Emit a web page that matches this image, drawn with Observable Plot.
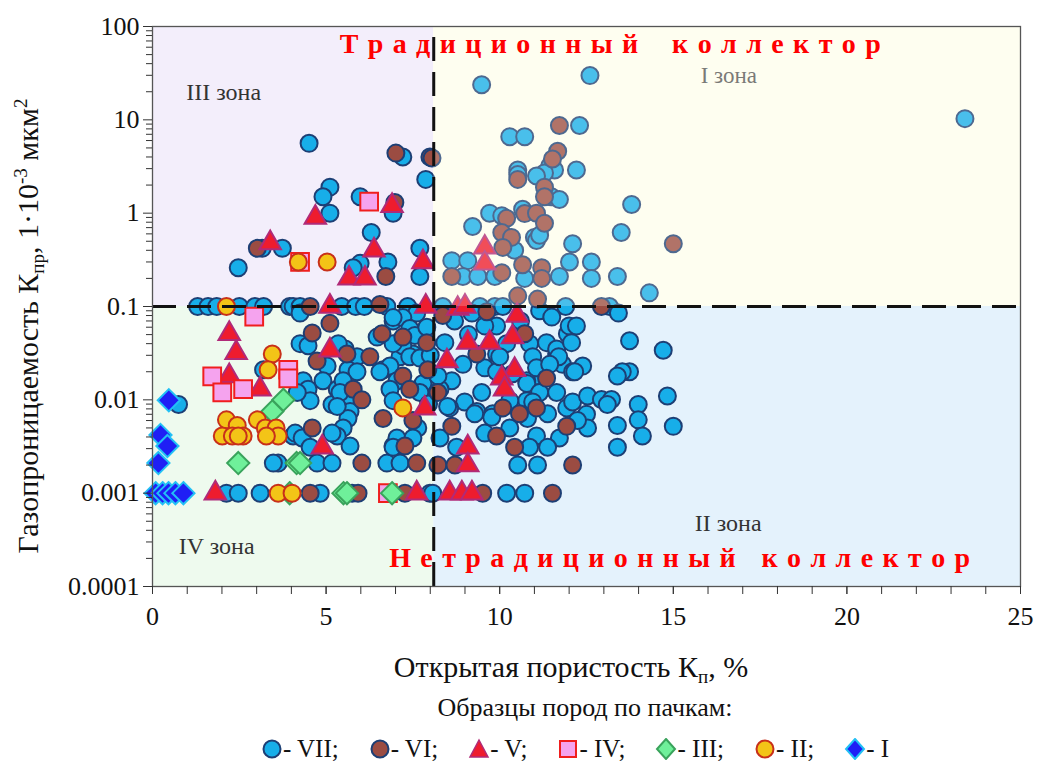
<!DOCTYPE html>
<html><head><meta charset="utf-8">
<script src="https://cdn.jsdelivr.net/npm/d3@7"></script>
<script src="https://cdn.jsdelivr.net/npm/@observablehq/plot@0.6"></script>
<style>
body{margin:0;background:#fff;font-family:"Liberation Serif","Times New Roman",serif;}
#chart svg{display:block}
#legendTitle{position:absolute;top:693px;left:110px;width:950px;text-align:center;font-size:26px;color:#111}
#legendItems{position:absolute;top:735px;left:110px;width:930px;display:flex;justify-content:center;gap:30px;font-size:25px;color:#111;align-items:center}
#legendItems span{display:flex;align-items:center;white-space:pre}
</style></head><body>
<div id="chart"></div>
<div id="legendTitle">Образцы пород по пачкам:</div>
<div id="legendItems"></div>
<script>
// ---- data ----
const xBoundary = 8.1;      // пористость граница
const yBoundary = 0.1;      // проницаемость граница
const xMajor = [0,5,10,15,20,25];
const xMinor = d3.range(0,26,1);
const yMajor = [0.0001,0.001,0.01,0.1,1,10,100];
const seriesNames = ["VII","VI","V","IV","III","II","I"];

const VII = [
[4.51,5.6],[7.21,4.0],[7.87,2.3],[5.11,1.9],[4.91,1.5],[5.11,1.0],[5.98,1.5],[6.93,1.0],[6.3,0.62],[3.16,0.42],[3.74,0.42],[2.47,0.26],[7.7,0.42],[7.7,0.21],[5.98,0.29],[6.78,0.3],[5.78,0.26],
[1.3,0.1],[1.6,0.1],[1.85,0.1],[2.5,0.1],[2.95,0.1],[3.2,0.1],[3.95,0.1],[4.05,0.1],[4.25,0.1],[5.45,0.1],[5.85,0.1],[6.1,0.1],[6.75,0.1],[7.35,0.1],[8.36,0.1],[9.43,0.1],[9.86,0.1],[10.09,0.1],[11.9,0.1],[13.16,0.1],[4.25,0.085],[7.61,0.085],[11.15,0.09],[11.5,0.077],[13.42,0.085],
[12.6,29.8],[9.48,23.8],[23.4,10.3],[12.3,8.7],[10.29,6.6],[10.72,6.6],[11.44,3.2],[11.58,2.9],[11.29,2.7],[11.06,2.5],[12.21,2.9],[10.52,2.9],[11.49,1.5],[11.72,1.4],[10.66,1.1],[9.71,1.0],[10.06,0.94],[9.22,0.72],[11.0,0.55],[11.06,0.51],[10.43,0.4],[12.1,0.47],[8.62,0.31],[9.08,0.31],[8.94,0.21],[9.37,0.21],[9.86,0.21],[10.72,0.2],[11.72,0.21],[12.01,0.3],[12.64,0.3],[12.64,0.2],[13.8,1.24],[13.5,0.62],[14.31,0.14],[13.39,0.21],[10.52,2.6],[11.15,0.58],
[0.75,0.0089],[3.2,0.021],[4.05,0.0041],[3.62,0.0021],[3.48,0.0021],
[4.25,0.04],[4.48,0.038],[5.03,0.023],[5.55,0.035],[5.89,0.029],[5.63,0.021],[5.89,0.020],[6.64,0.021],[6.47,0.047],[6.93,0.07],[7.21,0.076],[7.41,0.058],[7.56,0.049],[7.5,0.031],[7.13,0.029],[6.84,0.023],[7.04,0.016],[6.84,0.013],[4.91,0.016],[4.34,0.016],[4.48,0.013],[4.54,0.0098],[4.17,0.012],[5.32,0.013],[5.6,0.0105],[5.17,0.0089],[5.69,0.0075],[5.63,0.0063],[5.49,0.005],[5.32,0.0041],[4.11,0.0044],[4.31,0.0039],[4.54,0.0031],[5.69,0.0032],[4.74,0.0021],[5.17,0.0021],[6.75,0.0021],[7.13,0.0021],[6.93,0.0032],[7.64,0.005],
[5.35,0.04],[5.49,0.016],[5.4,0.012],[5.32,0.0085],[5.17,0.0044],[6.55,0.02],[6.93,0.0098],[7.21,0.038],[6.93,0.04],[7.41,0.029],[7.7,0.028],[6.93,0.076],[7.79,0.015],[7.7,0.012],[7.04,0.0039],[7.5,0.0039],[6.93,0.0031],[7.9,0.06],[8.0,0.03],[7.95,0.009],
[2.13,0.001],[2.47,0.001],[3.1,0.001],[4.83,0.001],[5.75,0.001],[7.99,0.001],
[8.42,0.041],[9.91,0.062],[9.57,0.062],[8.94,0.024],[9.57,0.022],[9.91,0.031],[10.2,0.04],[10.86,0.04],[10.95,0.029],[11.35,0.041],[11.64,0.031],[11.95,0.051],[11.81,0.024],[12.1,0.02],[11.06,0.018],[10.78,0.016],[8.62,0.016],[8.99,0.0095],[9.48,0.012],[9.34,0.0075],[9.8,0.0071],[10.78,0.0098],[11.64,0.012],[11.38,0.0071],[11.93,0.0082],[10.29,0.005],[8.28,0.0039],[9.57,0.0044],[11.06,0.0041],[11.72,0.0039],[8.76,0.0031],[10.86,0.0031],[11.38,0.0031],[10.52,0.002],[11.09,0.002],[8.07,0.001],[10.2,0.001],[10.72,0.001],
[12.0,0.062],[11.64,0.035],[11.7,0.029],[8.56,0.0082],[9.28,0.0071],[9.77,0.0065],[10.8,0.0063],[8.28,0.013],[8.5,0.0085],[9.91,0.02],[8.22,0.018],[10.0,0.029],[10.78,0.015],[11.06,0.022],[11.44,0.024],[11.15,0.012],[10.37,0.019],[10.29,0.0098],[10.95,0.0095],[9.1,0.05],[8.7,0.07],[9.2,0.085],[10.6,0.07],[12.5,0.007],[12.1,0.0095],
[12.21,0.062],[12.07,0.041],[13.74,0.043],[14.71,0.034],[12.39,0.023],[12.16,0.02],[13.74,0.02],[13.53,0.02],[13.39,0.018],[12.53,0.011],[12.93,0.0101],[13.22,0.0101],[13.1,0.0089],[13.99,0.0089],[14.83,0.011],[13.99,0.0061],[13.39,0.0053],[14.11,0.0041],[15.0,0.0052],[13.39,0.0031],[12.53,0.005],[12.24,0.006]
];
const VI = [
[7.01,4.4],[7.99,4.0],[6.98,1.3],[3.02,0.42],[6.72,0.21],
[11.72,8.7],[11.67,4.6],[11.52,3.8],[10.52,2.3],[11.29,1.9],[11.29,1.5],[10.72,0.99],[11.06,1.0],[10.2,0.88],[11.29,0.78],[10.06,0.62],[10.34,0.55],[10.09,0.43],[8.62,0.21],[10.06,0.23],[10.66,0.28],[11.21,0.26],[11.21,0.2],[10.52,0.13],[11.09,0.12],[15.0,0.47],[8.05,3.9],
[4.54,0.1],[6.55,0.105],[12.93,0.1],[8.36,0.08],[9.63,0.088],
[5.11,0.066],[4.6,0.052],[4.74,0.026],[5.6,0.031],[6.26,0.029],[6.61,0.051],[7.21,0.047],[7.9,0.041],[7.21,0.018],[7.41,0.013],[7.93,0.021],[5.78,0.013],[6.03,0.010],[4.6,0.005],[6.03,0.0021],[7.61,0.0021],[6.64,0.0063],[7.27,0.0032],[7.5,0.006],
[10.72,0.051],[9.34,0.031],[11.35,0.017],[8.22,0.012],[10.09,0.0082],[10.57,0.0071],[11.06,0.0082],[11.93,0.0052],[8.62,0.0052],[9.91,0.0041],[10.43,0.0031],[8.22,0.002],[8.71,0.002],[12.1,0.002],
[4.54,0.001],[5.92,0.001],[7.27,0.001],[9.51,0.001],[11.52,0.001]
];
const V = [
[4.69,0.9],[6.9,1.2],[3.39,0.48],[6.38,0.4],[7.79,0.3],[5.66,0.2],[6.12,0.2],
[5.11,0.1],[7.87,0.1],[8.79,0.095],[9.0,0.1],[10.5,0.08],
[2.21,0.051],[2.41,0.032],[2.21,0.018],[3.1,0.013],[5.11,0.034],[4.89,0.0031],[7.84,0.0081],[1.81,0.001],[7.61,0.001],
[9.08,0.041],[9.71,0.041],[10.37,0.047],[8.48,0.026],[10.43,0.021],[10.06,0.017],[10.14,0.013],[9.08,0.0031],[9.08,0.002],[8.56,0.001],[8.91,0.001],[9.2,0.001],
[9.57,0.43],[9.57,0.29]
];
const IV = [[2.93,0.078],[1.72,0.0178],[2.01,0.012],[2.61,0.013],[3.91,0.021],[3.91,0.017],[6.24,1.33],[4.25,0.3],[6.78,0.001]];
const III = [[3.77,0.01],[3.45,0.0075],[2.47,0.0021],[4.15,0.0021],[4.25,0.0021],[3.95,0.001],[5.5,0.001],[5.6,0.001],[6.9,0.001]];
const II = [[2.13,0.1],[3.45,0.031],[3.33,0.021],[2.13,0.0061],[2.44,0.0053],[2.01,0.0041],[2.3,0.0041],[2.61,0.0041],[2.47,0.0041],[3.02,0.0061],[3.25,0.005],[3.56,0.005],[3.62,0.0041],[3.28,0.0041],[7.21,0.0082],[4.2,0.3],[5.03,0.3],[3.62,0.001],[4.02,0.001]];
const I = [[0.47,0.0099],[0.23,0.0042],[0.43,0.0032],[0.17,0.0021],[0.09,0.001],[0.29,0.001],[0.46,0.001],[0.66,0.001],[0.89,0.001]];

const zoneNames = ["I зона","II зона","III зона","IV зона"];
const titleTop = "Т р а д и ц и о н н ы й    к о л л е к т о р";
const titleBottom = "Н е т р а д и ц и о н н ы й   к о л л е к т о р";

// ---- styles ----
const styles = {
  VII:{data:VII, symbol:"circle",  fill:"#17aee9", stroke:"#1d3f75", r:8.5},
  VI: {data:VI,  symbol:"circle",  fill:"#9b4c42", stroke:"#1d3f75", r:8.5},
  V:  {data:V,   symbol:"triangle",fill:"#ee1c2e", stroke:"#b02a78", r:8},
  IV: {data:IV,  symbol:"square",  fill:"#f5a3ee", stroke:"#f01e1e", r:10},
  III:{data:III, symbol:"diamond2",fill:"#6ff09a", stroke:"#3aa35c", r:10},
  II: {data:II,  symbol:"circle",  fill:"#f3c417", stroke:"#c8301a", r:8.5},
  I:  {data:I,   symbol:"diamond2",fill:"#1f1ff5", stroke:"#22c0f5", r:10}
};
const zones = [
  {name:zoneNames[2], x1:0, x2:xBoundary, y1:yBoundary, y2:100, fill:"#f3eefb"},
  {name:zoneNames[0], x1:xBoundary, x2:25, y1:yBoundary, y2:100, fill:"#fefef0"},
  {name:zoneNames[3], x1:0, x2:xBoundary, y1:0.0001, y2:yBoundary, fill:"#eefaee"},
  {name:zoneNames[1], x1:xBoundary, x2:25, y1:0.0001, y2:yBoundary, fill:"#e4f2fc"}
];
const yMinor = [];
for (let e=-4;e<2;e++) for (let k=2;k<10;k++) yMinor.push(+(k*Math.pow(10,e)).toPrecision(3));

const font = "Liberation Serif";
const marks = [];
zones.forEach(z => marks.push(Plot.rect([z], {x1:"x1",x2:"x2",y1:"y1",y2:"y2",fill:z.fill})));
marks.push(Plot.text([zoneNames[2]], {x:2.05, y:19.6, text:d=>d, fontSize:24, fill:"#333", fontFamily:font}));
marks.push(Plot.text([zoneNames[0]], {x:16.6, y:30, text:d=>d, fontSize:23, fill:"#555", fontFamily:font}));
marks.push(Plot.text([zoneNames[3]], {x:1.85, y:0.00027, text:d=>d, fontSize:24, fill:"#333", fontFamily:font}));
marks.push(Plot.text([zoneNames[1]], {x:16.58, y:0.00048, text:d=>d, fontSize:24, fill:"#333", fontFamily:font}));
seriesNames.forEach(n => {
  const s = styles[n];
  marks.push(Plot.dot(s.data, {x:d=>d[0], y:d=>d[1], symbol:s.symbol, r:s.r, fill:s.fill, stroke:s.stroke, strokeWidth:2}));
});
// lighten points in zone I (as in the original)
marks.push(Plot.rect([zones[1]], {x1:"x1",x2:"x2",y1:"y1",y2:"y2",fill:"#fffff2",fillOpacity:0.22}));
marks.push(Plot.ruleX([xBoundary], {y1:0.0001, y2:100, stroke:"#111", strokeWidth:3, strokeDasharray:"24,11"}));
marks.push(Plot.ruleY([yBoundary], {x1:0, x2:25, stroke:"#111", strokeWidth:3, strokeDasharray:"24,11"}));
marks.push(Plot.text([titleTop], {x:13.2, y:65, text:d=>d, fill:"#ff0000", fontWeight:"bold", fontSize:28, fontFamily:font}));
marks.push(Plot.text([titleBottom], {x:15.2, y:0.0002, text:d=>d, fill:"#ff0000", fontWeight:"bold", fontSize:28, fontFamily:font}));
marks.push(Plot.frame({stroke:"#555", strokeWidth:1.3}));
marks.push(Plot.axisY({ticks:yMinor, tickFormat:()=>"", tickSize:6, label:null, stroke:"#333"}));
marks.push(Plot.axisY({ticks:yMajor, tickFormat:d=>String(d), tickSize:9, tickPadding:4, label:null, fontSize:26, fontFamily:font, fill:"#111", stroke:"#333"}));
marks.push(Plot.axisX({ticks:xMinor, tickFormat:()=>"", tickSize:8, label:null, stroke:"#333"}));
marks.push(Plot.axisX({ticks:xMajor, tickSize:8, tickPadding:12, label:null, fontSize:26, fontFamily:font, fill:"#111", stroke:"#333"}));

const chart = Plot.plot({
  width:1040, height:690,
  marginLeft:152, marginRight:20, marginTop:26, marginBottom:104,
  x:{domain:[0,25]},
  y:{type:"log", domain:[0.0001,100]},
  style:{fontFamily:font, background:"#fff", overflow:"visible"},
  marks
});
document.getElementById("chart").appendChild(chart);

const svg = d3.select(chart);
svg.selectAll("text").filter(function(){return this.textContent===titleTop || this.textContent===titleBottom;})
  .style("letter-spacing","1.2px");
// axis labels with sub/superscripts
const xl = svg.append("text").attr("x",571).attr("y",677).attr("text-anchor","middle")
  .attr("font-size",30).attr("font-family",font).attr("fill","#111");
xl.append("tspan").text("Открытая пористость К");
xl.append("tspan").attr("font-size",19).attr("dy",6).text("п");
xl.append("tspan").attr("dy",-6).text(", %");
const yl = svg.append("text").attr("transform","translate(38,326) rotate(-90)").attr("text-anchor","middle")
  .attr("font-size",30).attr("font-family",font).attr("fill","#111");
yl.append("tspan").text("Газопроницаемость К");
yl.append("tspan").attr("font-size",19).attr("dy",6).text("пр");
yl.append("tspan").attr("dy",-6).text(", 1·10");
yl.append("tspan").attr("font-size",19).attr("dy",-11).text("-3");
yl.append("tspan").attr("dy",11).text(" мкм");
yl.append("tspan").attr("font-size",19).attr("dy",-11).text("2");

// legend
const legend = document.getElementById("legendItems");
seriesNames.forEach((n,i) => {
  const s = styles[n];
  let shape = "";
  if (s.symbol==="circle") shape = `<circle cx="11" cy="11" r="8.5" fill="${s.fill}" stroke="${s.stroke}" stroke-width="2"/>`;
  else if (s.symbol==="triangle") shape = `<polygon points="11,2 20,19 2,19" fill="${s.fill}" stroke="${s.stroke}" stroke-width="1.5"/>`;
  else if (s.symbol==="square") shape = `<rect x="3" y="3" width="16" height="16" fill="${s.fill}" stroke="${s.stroke}" stroke-width="2"/>`;
  else shape = `<polygon points="11,1 20,11 11,21 2,11" fill="${s.fill}" stroke="${s.stroke}" stroke-width="2"/>`;
  const span = document.createElement("span");
  span.innerHTML = `<svg width="22" height="22">${shape}</svg>- ${n}${i<seriesNames.length-1?";":""}`;
  legend.appendChild(span);
});
</script>
</body></html>
